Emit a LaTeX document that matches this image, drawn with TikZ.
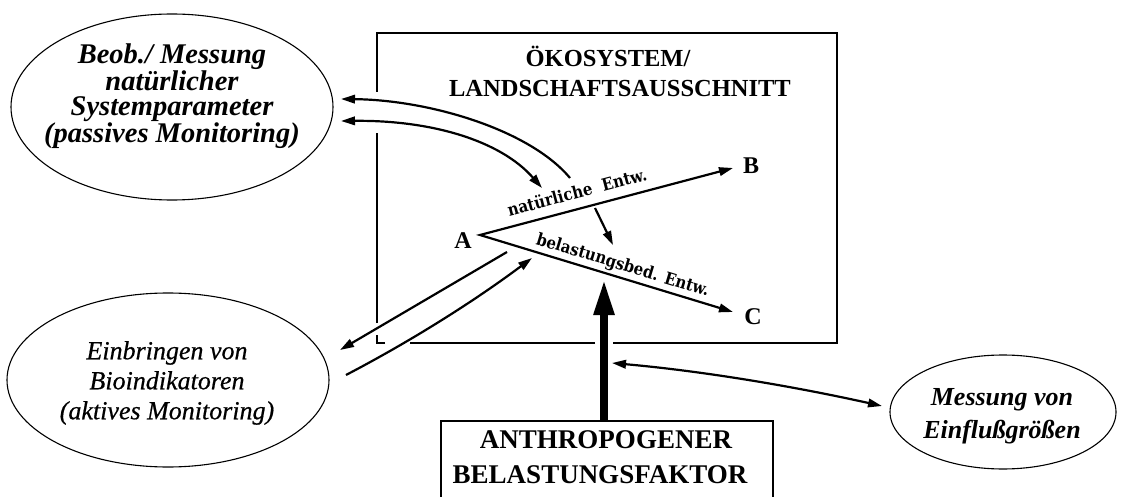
\documentclass[tikz,border=0pt]{standalone}
\usepackage{fontspec}
\setmainfont{Liberation Serif}
\newfontfamily\lblfont{DejaVu Serif}[FakeStretch=0.88]
\newfontface\meditfont{Liberation Serif Italic}[FakeBold=0.6]
\usetikzlibrary{arrows.meta,shapes.geometric}
\begin{document}
\begin{tikzpicture}[x=1pt,y=-1pt,
  >={Triangle[length=14pt,width=8.5pt]},
  ell/.style={draw, ellipse, line width=1.1pt, inner sep=0pt},
  arr/.style={line width=2.2pt},
  frame/.style={line width=2pt},
  ttl/.style={font=\bfseries\fontsize{24.5pt}{30pt}\selectfont, inner sep=0pt, anchor=base},
  btl/.style={font=\bfseries\fontsize{27pt}{30pt}\selectfont, inner sep=0pt, anchor=base},
  lett/.style={font=\bfseries\fontsize{24pt}{28pt}\selectfont, inner sep=0pt, anchor=base},
  lbl/.style={font=\lblfont\bfseries\fontsize{17pt}{20pt}\selectfont, inner xsep=0pt, sloped, anchor=south},
  etxt/.style={align=center, inner sep=0pt}
]
\useasboundingbox (0,0) rectangle (1122,497);
\clip (0,0) rectangle (1122,497);

% ---------- main box (ecosystem) drawn with its gaps
\draw[frame] (377,92) -- (377,33) -- (837,33) -- (837,343) -- (613,343);
\draw[frame] (595,343) -- (410,343);
\draw[frame] (385,343) -- (377,343) -- (377,335);
\draw[frame] (377,323) -- (377,133);
\node[ttl] (t1) at (608,67) {ÖKOSYSTEM/};
\node[ttl] (t2) at (620,97) {LANDSCHAFTSAUSSCHNITT};

% ---------- bottom box
\node[draw, frame, minimum width=332pt, minimum height=110pt, anchor=north, inner sep=0pt] (load) at (607,420) {};
\node[btl] (l1) at (606,448) {ANTHROPOGENER};
\node[btl] (l2) at (600,483) {BELASTUNGSFAKTOR};

% ---------- ellipses
\node[ell, minimum width=322pt, minimum height=186pt] (obs) at (172,107) {};
\node[etxt, font=\bfseries\itshape\fontsize{28.5pt}{25.5pt}\selectfont] (obstxt) at (172,96)
  {Beob./ Messung\\natürlicher\\Systemparameter\\(passives Monitoring)};

\node[ell, minimum width=322pt, minimum height=174pt] (bio) at (168,380) {};
\node[etxt, font=\meditfont\fontsize{26pt}{30pt}\selectfont] (biotxt) at (167,383)
  {Einbringen von\\Bioindikatoren\\(aktives Monitoring)};

\node[ell, minimum width=226pt, minimum height=114pt] (mess) at (1003,412) {};
\node[etxt, font=\bfseries\itshape\fontsize{26pt}{33pt}\selectfont] (messtxt) at (1002,416)
  {Messung von\\Einflußgrößen};

% ---------- A, B, C
\node[lett] (A) at (463,248) {A};
\node[lett] (B) at (751,174) {B};
\node[lett] (C) at (753,324) {C};

\coordinate (v) at (480,235);
\coordinate (bt) at (733,168);
\coordinate (ct) at (733,312);
\draw[arr, <->] (bt) -- (v) -- (ct);
\path (v) -- (bt) node[lbl, pos=0.40, inner ysep=10pt] (nat) {natürliche\ \ Entw.};
\path (v) -- (ct) node[lbl, pos=0.55, inner ysep=3.5pt] (bel) {belastungsbed. Entw.};

% small arrow between the developments
\coordinate (s1) at (595,208);
\coordinate (s2) at (613,245);
\draw[arr, ->] (s1) -- (s2);

% ---------- arrows to/from upper ellipse
\coordinate (u1) at (570,178);
\coordinate (u2) at (341,99);
\draw[arr, ->] (u1) .. controls (530,130) and (430,100) .. (u2);
\coordinate (w1) at (341,121);
\coordinate (w2) at (542,188);
\draw[arr, <->] (w1) .. controls (430,120) and (500,140) .. (w2);

% ---------- arrows to/from lower ellipse
\coordinate (p1) at (507,252);
\coordinate (p2) at (340,350);
\draw[arr, ->] (p1) -- (p2);
\coordinate (q1) at (346,375);
\coordinate (q2) at (532,258);
\draw[arr, ->] (q1) .. controls (411,341) and (473,302) .. (q2);

% ---------- thick load arrow
\coordinate (k1) at (604,420);
\coordinate (k2) at (604,279);
\draw[line width=8pt, -{Triangle[length=36pt,width=19pt]}] (k1) -- (k2);

% ---------- measurement double arrow
\coordinate (m1) at (612,363);
\coordinate (m2) at (882,406);
\draw[arr, <->] (m1) .. controls (702,371) and (792,386) .. (m2);
\end{tikzpicture}
\end{document}
